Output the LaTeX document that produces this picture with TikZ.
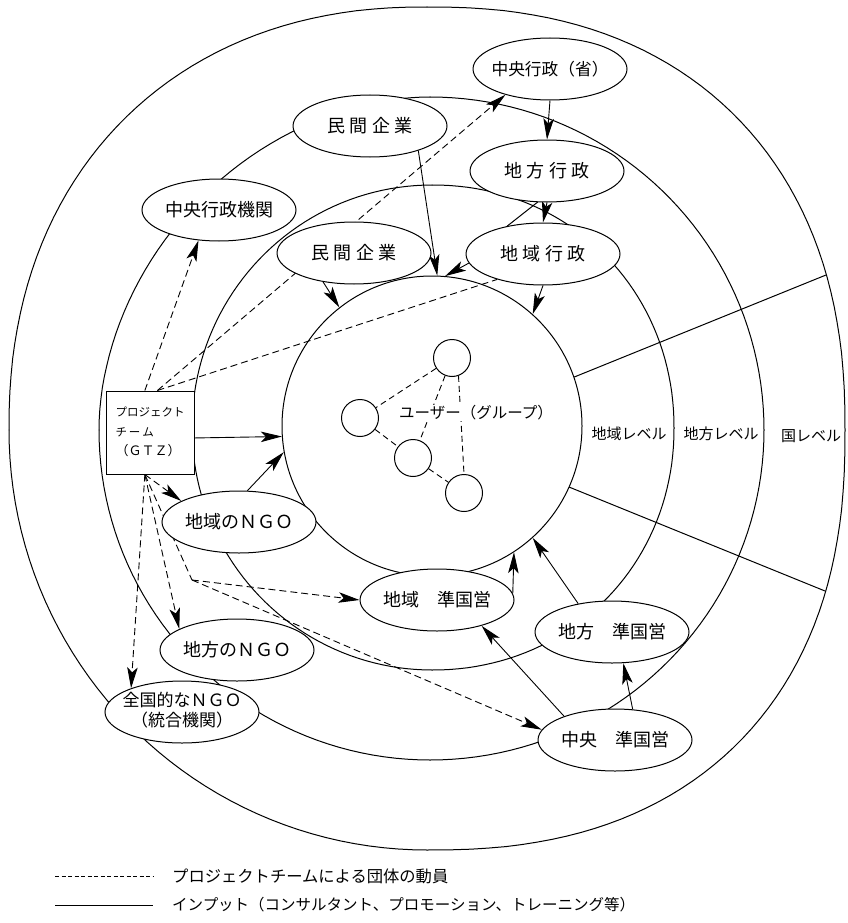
\documentclass[tikz,border=0pt]{standalone}
\usepackage{fontspec}
\setmainfont{Noto Sans CJK JP}
\usetikzlibrary{arrows.meta,shapes.geometric,backgrounds,calc}
\newcommand{\ctrbox}[1]{\makebox[0pt]{#1}}
\newcommand{\kg}{\hspace{4.5pt}}
% one quadrant of a super-ellipse: centre x, centre y, signed x radius, signed y radius, exponent 2/n
\newcommand{\quadarc}[5]{%
  \draw[ring] plot[domain=0:90, samples=46, variable=\t]
    ({#1 + (#3)*max(cos(\t),0.00001)^#5}, {#2 + (#4)*max(sin(\t),0.00001)^#5});}
\begin{document}
\begin{tikzpicture}[x=1pt,y=-1pt,line width=1pt,
  org/.style={ellipse, draw, fill=white, minimum width=154pt, minimum height=62pt,
    inner sep=0pt, font=\fontsize{18pt}{20pt}\selectfont},
  ucirc/.style={circle, draw, fill=white, minimum size=37pt, inner sep=0pt},
  ring/.style={line width=1pt, line cap=round},
  tipstyle/.style={-{Stealth[length=21pt,width=10.5pt,inset=5pt]}},
  inp/.style={tipstyle, line width=0.9pt},
  mobline/.style={line width=0.9pt, dash pattern=on 7pt off 4pt},
  mob/.style={mobline, tipstyle},
  lvl/.style={font=\fontsize{15pt}{17pt}\selectfont, inner sep=0pt}]
\useasboundingbox (0,0) rectangle (848,923);

% ---- organisation nodes ----
\node[org] (chuoSho) at (550,69) {\ctrbox{\fontsize{16.7pt}{19pt}\selectfont 中央行政（省）}};
\node[org] (minkanA) at (370,126) {\ctrbox{民\kg 間\kg 企\kg 業}};
\node[org] (chihouG) at (547,171) {\ctrbox{地\kg 方\kg 行\kg 政}};
\node[org] (chuoKikan) at (219,210) {\ctrbox{中央行政機関}};
\node[org] (minkanB) at (354,253) {\ctrbox{民\kg 間\kg 企\kg 業}};
\node[org] (chiikiG) at (543,254) {\ctrbox{地\kg 域\kg 行\kg 政}};
\node[circle, draw, minimum size=300pt, inner sep=0pt] (inner) at (432,426) {};
\node[draw, fill=white, minimum width=88pt, minimum height=83pt, inner sep=0pt] (gtz) at (150,432.5)
  {\fontsize{12pt}{19.5pt}\selectfont\begin{tabular}{@{}l@{}}{\fontsize{11.5pt}{14pt}\selectfont プロジェクト}\\
   {\fontsize{11.5pt}{14pt}\selectfont チ\hspace{2pt}ー\hspace{2pt}ム}\\
   {\fontsize{13pt}{15pt}\selectfont （ＧＴＺ）}\end{tabular}};
\node[org] (chiikiNGO) at (239,522) {\ctrbox{地域のＮＧＯ}};
\node[org] (chiikiJun) at (437,600) {\ctrbox{地域　準国営}};
\node[org] (chihouJun) at (612,632) {\ctrbox{地方　準国営}};
\node[org] (chihouNGO) at (237,650) {\ctrbox{地方のＮＧＯ}};
\node[org] (zenkoku) at (182,712) {\ctrbox{\fontsize{17pt}{19pt}\selectfont\begin{tabular}{@{}c@{}}全国的なＮＧＯ\\（統合機関）\end{tabular}}};
\node[org] (chuoJun) at (615,740) {\ctrbox{中央　準国営}};

% ---- users ----
\node[ucirc] (u1) at (452,358) {};
\node[ucirc] (u2) at (360,418) {};
\node[ucirc] (u3) at (413,458) {};
\node[ucirc] (u4) at (464,493) {};
\node[fill=white, inner sep=1pt, font=\fontsize{15.5pt}{17pt}\selectfont] (users) at (476,413) {ユーザー（グループ）};

% ---- level labels ----
\node[lvl] (lvA) at (629,434) {地域レベル};
\node[lvl] (lvB) at (721,434) {地方レベル};
\node[lvl] (lvC) at (811,436) {国レベル};

\coordinate (rE1) at (826,275);
\coordinate (rE2) at (825,591);
\coordinate (kink) at (192,580);

\begin{pgfonlayer}{background}
% outer oval (national level)
\quadarc{427}{430}{418}{-423}{0.8696}
\quadarc{427}{430}{-418}{-423}{0.9091}
\quadarc{427}{430}{-418}{420}{1}
\quadarc{427}{430}{418}{420}{0.8511}
% third oval (regional level)
\quadarc{430}{430}{334}{-333}{1}
\quadarc{430}{430}{-331}{-333}{1.0526}
\quadarc{430}{430}{-331}{330}{1}
\quadarc{430}{430}{334}{330}{1}
% second oval (local level)
\quadarc{432}{428}{242}{-243}{0.9756}
\quadarc{432}{428}{-240}{-243}{1}
\quadarc{432}{428}{-240}{242}{1}
\quadarc{432}{428}{242}{242}{0.9756}
% radial lines
\draw[ring] (inner.19.4) -- (rE1);
\draw[ring] (inner.-24.7) -- (rE2);

% user links
\draw[mobline, dash pattern=on 6pt off 4pt] (u1) -- (u2);
\draw[mobline, dash pattern=on 6pt off 4pt] (u1) -- (u3);
\draw[mobline, dash pattern=on 6pt off 4pt] (u1.-70) -- (u4.north);
\draw[mobline, dash pattern=on 6pt off 4pt] (u2) -- (u3);
\draw[mobline, dash pattern=on 6pt off 4pt] (u3) -- (u4);

% inputs (solid)
\draw[inp] (chuoSho.south) -- (chihouG.north);
\draw[inp] (chihouG.south) -- (chiikiG.north);
\draw[ring] (chiikiG.142) -- (chihouG.-107);
\draw[inp] (minkanA.-27) -- (inner.88);
\draw[inp] (chiikiG.187) -- (inner.85);
\draw[inp] (chiikiG.south) -- (inner.48);
\draw[inp] (minkanB.223) -- (inner.128);
\draw[inp] (gtz.-7) -- (inner.184.5);
\draw[inp] (chiikiNGO.75) -- (inner.190);
\draw[inp] (chiikiJun.5) -- (inner.-57);
\draw[inp] (chihouJun.140) -- (inner.-48);
\draw[inp] (chuoJun.60) -- (chihouJun.-70);
\draw[inp] (chuoJun.155) -- (chiikiJun.-30);

% mobilisation (dashed)
\draw[mob] (gtz.97) -- (chuoKikan.-124);
\draw[mob] (gtz.80) -- (chuoSho.210);
\draw[mobline] (gtz.80) -- (chiikiG.209);
\draw[mob] (gtz.-97) -- (chiikiNGO.160);
\draw[mob] (gtz.-97) -- (chihouNGO.160);
\draw[mob] (gtz.-97) -- (zenkoku.155);
\draw[mobline] (gtz.-97) -- (kink);
\draw[mob] (kink) -- (chiikiJun.west);
\draw[mob] (kink) -- (chuoJun.172);
\end{pgfonlayer}

% ---- legend ----
\coordinate (lgA1) at (55,876);
\coordinate (lgA2) at (153,876);
\coordinate (lgB1) at (55,905);
\coordinate (lgB2) at (153,905);
\draw[line width=0.8pt, dash pattern=on 4pt off 2.5pt] (lgA1) -- (lgA2);
\draw[line width=0.8pt] (lgB1) -- (lgB2);
\node[anchor=west, inner sep=0pt, font=\fontsize{16.3pt}{18pt}\selectfont] (lgT1) at (172,876) {プロジェクトチームによる団体の動員};
\node[anchor=west, inner sep=0pt, font=\fontsize{15.5pt}{18pt}\selectfont] (lgT2) at (172,905) {インプット（コンサルタント、プロモーション、トレーニング等）};
\end{tikzpicture}
\end{document}
